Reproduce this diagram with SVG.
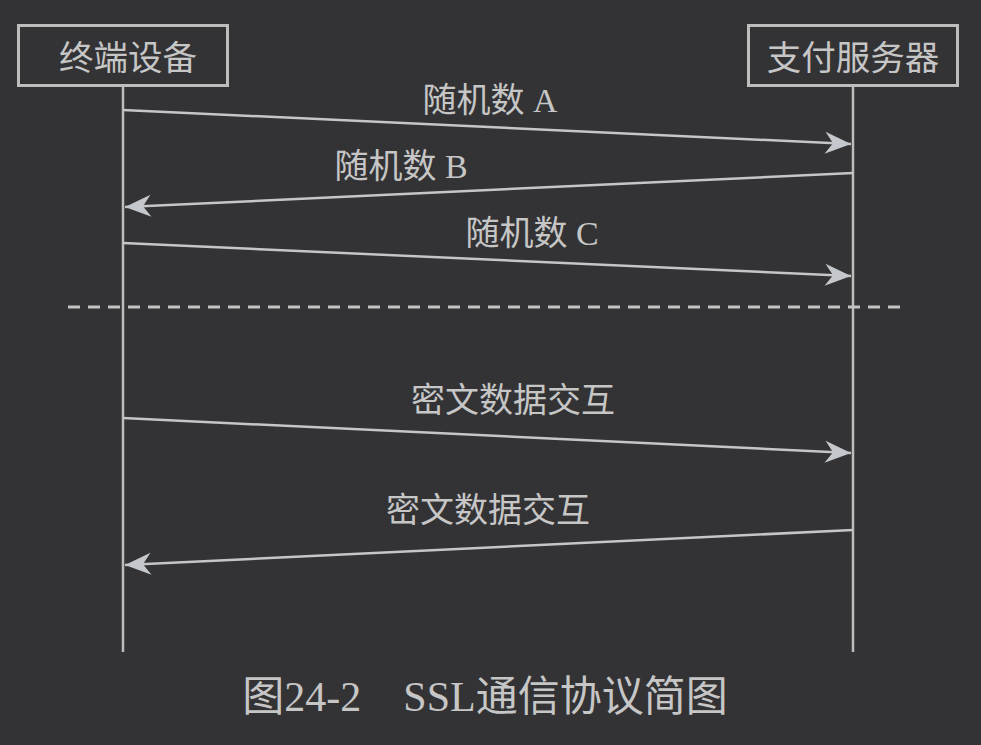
<svg xmlns="http://www.w3.org/2000/svg" width="981" height="745" viewBox="0 0 981 745">
<style>
.bg{fill:#333335}
.box{fill:none;stroke:#bdbdbd;stroke-width:3}
.life{stroke:#bdbdbd;stroke-width:2.5;fill:none}
.msg{stroke:#c4c6c8;stroke-width:2.5;fill:none}
.t{font-family:"Liberation Serif","Noto Sans CJK SC",serif;fill:#c6c6c6;text-anchor:middle}
.lbl{font-size:34px}
.nd{font-size:34.5px}
.cap{font-size:42px}
.dash{stroke:#c4c4c4;stroke-width:3;stroke-dasharray:12,8;fill:none}
</style>
<defs>
<marker id="ah" markerUnits="userSpaceOnUse" viewBox="-30 -12 32 24" refX="0" refY="0" markerWidth="32" markerHeight="24" orient="auto">
<path d="M0,0 L-26,-11 L-18,0 L-26,11 Z" fill="#c4c8cc"/>
</marker>
</defs>
<rect class="bg" x="0" y="0" width="981" height="745"/>
<g id="node-terminal">
<rect class="box" x="18.5" y="25.5" width="209" height="60"/>
<text class="t nd" x="128" y="70">终端设备</text>
</g>
<g id="node-server">
<rect class="box" x="748.5" y="25.5" width="209" height="60"/>
<text class="t nd" x="853" y="70">支付服务器</text>
</g>
<g id="connectors">
<line class="life" x1="123" y1="86" x2="123" y2="652"/>
<line class="life" x1="853" y1="86" x2="853" y2="652"/>
<line class="msg" x1="123" y1="110" x2="851" y2="144" marker-end="url(#ah)"/>
<line class="msg" x1="853" y1="173" x2="125" y2="207" marker-end="url(#ah)"/>
<line class="msg" x1="123" y1="243" x2="851" y2="276" marker-end="url(#ah)"/>
<line class="dash" x1="68" y1="307" x2="905" y2="307"/>
<line class="msg" x1="123" y1="418" x2="851" y2="453" marker-end="url(#ah)"/>
<line class="msg" x1="853" y1="530" x2="125" y2="565" marker-end="url(#ah)"/>
</g>
<g id="labels">
<text class="t lbl" x="490" y="112">随机数 A</text>
<text class="t lbl" x="401" y="178">随机数 B</text>
<text class="t lbl" x="532" y="245">随机数 C</text>
<text class="t lbl" x="513" y="412">密文数据交互</text>
<text class="t lbl" x="488" y="522">密文数据交互</text>
</g>
<text class="t cap" x="485" y="711">图24-2　SSL通信协议简图</text>
</svg>
